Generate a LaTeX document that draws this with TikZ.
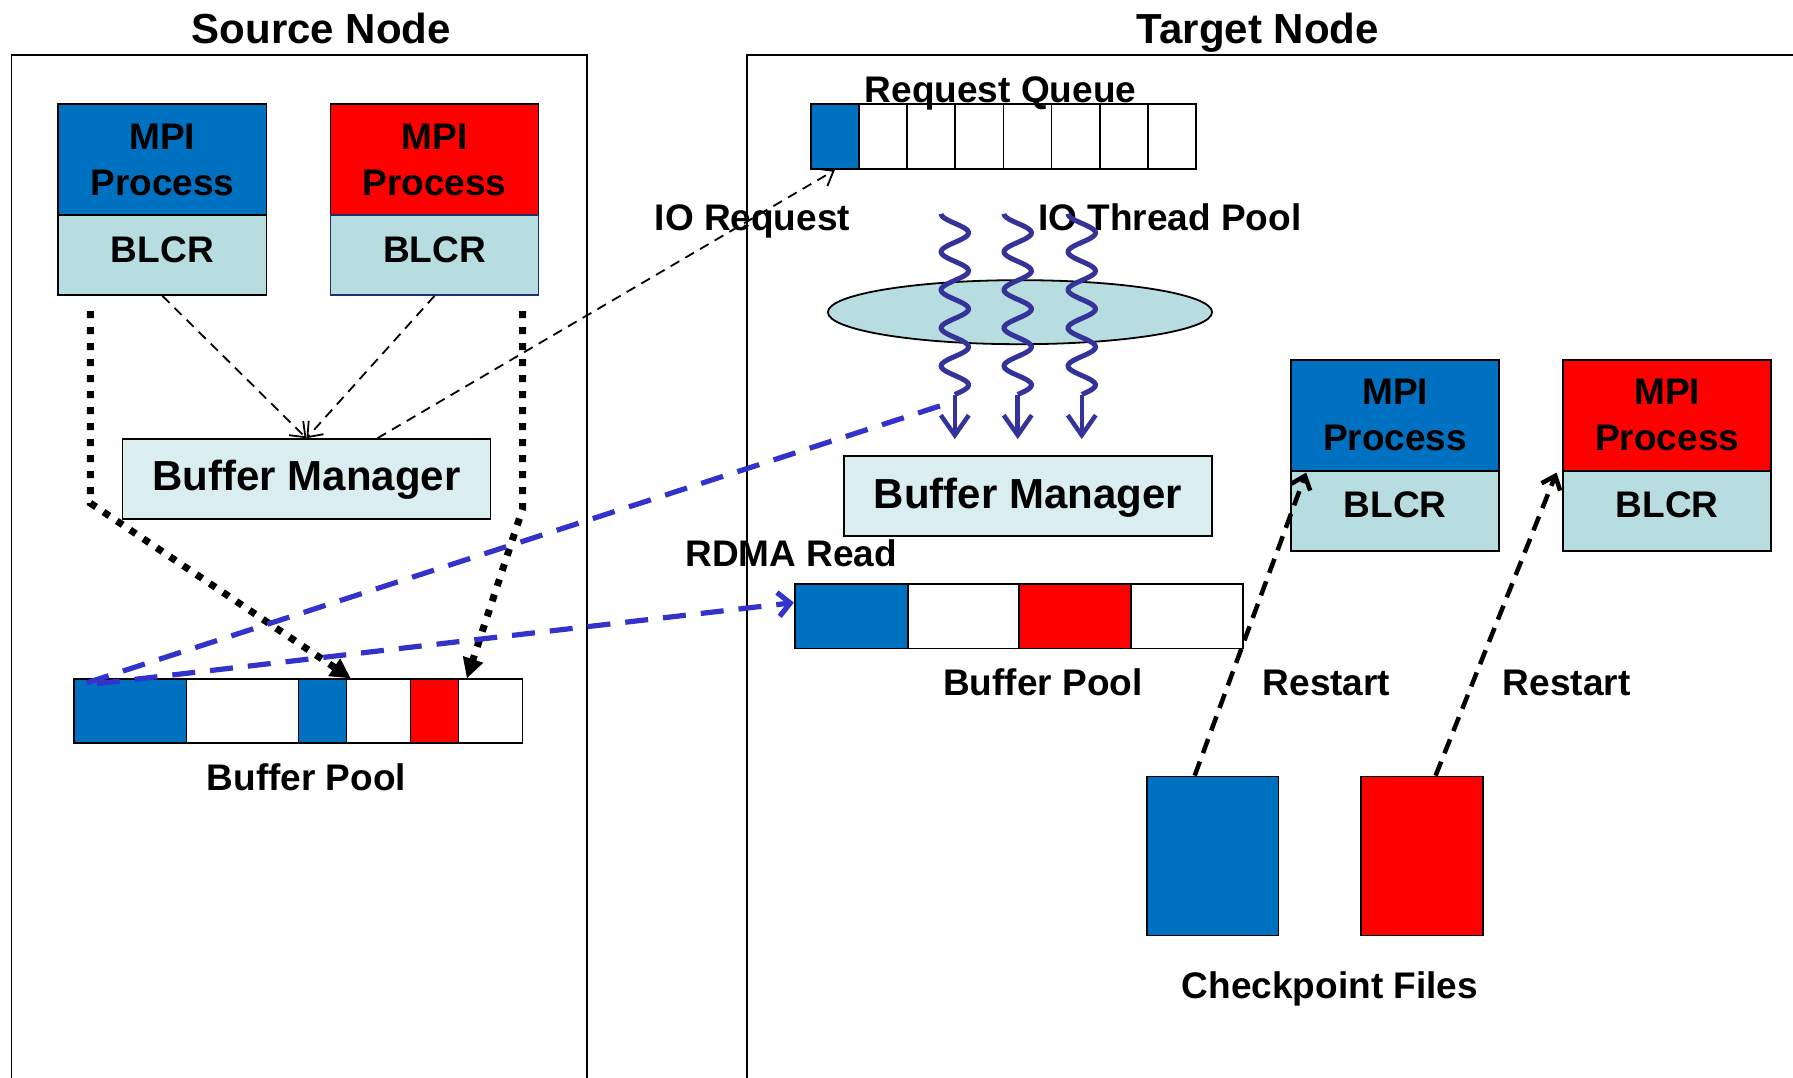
\documentclass[tikz,border=0pt]{standalone}
\usepackage{fontspec}
\setmainfont{Liberation Sans}
\usetikzlibrary{arrows.meta,fit,calc,shapes.geometric}
\definecolor{mblue}{HTML}{0070C0}
\definecolor{mred}{HTML}{FF0000}
\definecolor{blcrc}{HTML}{B7DDE0}
\definecolor{bmc}{HTML}{DAEEF0}
\definecolor{rdmac}{HTML}{3333CC}
\definecolor{wavec}{HTML}{333399}
\definecolor{navyc}{HTML}{1F2F6F}
\begin{document}
\begin{tikzpicture}[x=1.1435pt,y=-1.1435pt,
  big/.style={font=\fontsize{42}{50}\selectfont\bfseries, inner sep=0pt, text height=30pt, text depth=0pt},
  lab/.style={font=\fontsize{37}{45.7}\selectfont\bfseries, inner sep=0pt, text height=26.5pt, text depth=0pt},
  mlab/.style={font=\fontsize{37}{45.7}\selectfont\bfseries, inner sep=0pt, align=center},
  cell/.style={draw, line width=1.7pt, inner sep=0pt},
  frame/.style={draw, line width=1.8pt},
  thin/.style={line width=1.8pt, dash pattern=on 10pt off 7pt, -{Straight Barb[length=13pt,width=20pt]}},
  dotarr/.style={line width=7pt, dash pattern=on 7pt off 9pt, -{Triangle[length=20pt,width=20pt]}},
  rdma/.style={rdmac, line width=5.2pt, dash pattern=on 23pt off 15pt, rounded corners=14pt, -{Straight Barb[length=12pt,width=24pt]}},
  restart/.style={line width=4.5pt, dash pattern=on 15pt off 9pt, -{Straight Barb[length=12pt,width=20pt]}},
  wavy/.style={wavec, line width=5pt},
  wavearr/.style={wavec, line width=4.5pt, -{Straight Barb[length=20pt,width=28pt]}}
]
\path[use as bounding box, clip] (0,0) rectangle (1568,942);

% frames
\draw[frame] (10,48) rectangle (513,1000);
\draw[frame] (653,48) rectangle (1700,1000);

% source node boxes
\node[cell, fill=mblue, fit={(51,91)(233,188)}] (s1m) {};
\node[cell, fill=blcrc, fit={(51,188)(233,258)}] (s1b) {};
\node[cell, fill=mred, fit={(289,91)(471,188)}] (s2m) {};
\node[cell, draw=navyc, fill=blcrc, fit={(289,188)(471,258)}] (s2b) {};
\node[cell, fill=bmc, fit={(107,384)(429,454)}] (sbm) {};
\node[cell, fill=mblue, fit={(65,594)(163,650)}] (sp1) {};
\node[cell, fit={(163,594)(261,650)}] (sp2) {};
\node[cell, fill=mblue, fit={(261,594)(303,650)}] (sp3) {};
\node[cell, fit={(303,594)(359,650)}] (sp4) {};
\node[cell, fill=mred, fit={(359,594)(401,650)}] (sp5) {};
\node[cell, fit={(401,594)(457,650)}] (sp6) {};

% target node boxes
\node[cell, fill=mblue, fit={(709,91)(751.1,148)}] (q1) {};
\foreach \i in {2,...,8} {
  \pgfmathsetmacro\xa{709+(\i-1)*42.125}
  \pgfmathsetmacro\xb{709+\i*42.125}
  \node[cell, fit={(\xa,91)(\xb,148)}] (q\i) {};
}
\node[ellipse, draw, line width=1.8pt, fill=blcrc, minimum width=336*1.1435pt, minimum height=56*1.1435pt, inner sep=0pt] (pool) at (892,273) {};
\node[cell, fill=bmc, fit={(738,399)(1060,469)}] (tbm) {};
\node[cell, fill=mblue, fit={(695,511)(794,567)}] (tp1) {};
\node[cell, fit={(794,511)(891,567)}] (tp2) {};
\node[cell, fill=mred, fit={(891,511)(989,567)}] (tp3) {};
\node[cell, fit={(989,511)(1087,567)}] (tp4) {};
\node[cell, fill=mblue, fit={(1129,315)(1311,412)}] (t1m) {};
\node[cell, fill=blcrc, fit={(1129,412)(1311,482)}] (t1b) {};
\node[cell, fill=mred, fit={(1367,315)(1549,412)}] (t2m) {};
\node[cell, fill=blcrc, fit={(1367,412)(1549,482)}] (t2b) {};
\node[cell, fill=mblue, fit={(1003,679)(1118,818)}] (ck1) {};
\node[cell, fill=mred, fit={(1190,679)(1297,818)}] (ck2) {};

% texts
\node[big] (srcT) at (281,25) {Source Node};
\node[big] (tgtT) at (1100,25) {Target Node};
\node[mlab] (s1mt) at (142,140) {MPI\\Process};
\node[mlab] (s2mt) at (380,140) {MPI\\Process};
\node[lab] (s1bt) at (142,218) {BLCR};
\node[lab] (s2bt) at (380,218) {BLCR};
\node[big] (sbmt) at (268,416) {Buffer Manager};
\node[lab] (spt) at (268,680) {Buffer Pool};
\node[lab] (rqt) at (875,78) {Request Queue};
\node[lab] (iort) at (658,190) {IO Request};
\node[lab] (iotpt) at (1023,190) {IO Thread Pool};
\node[big] (tbmt) at (899,432) {Buffer Manager};
\node[lab] (rdmat) at (692,484) {RDMA Read};
\node[lab] (tpt) at (912,597) {Buffer Pool};
\node[mlab] (t1mt) at (1220,363) {MPI\\Process};
\node[mlab] (t2mt) at (1458,363) {MPI\\Process};
\node[lab] (t1bt) at (1220,441) {BLCR};
\node[lab] (t2bt) at (1458,441) {BLCR};
\node[lab] (rs1) at (1160,597) {Restart};
\node[lab] (rs2) at (1370,597) {Restart};
\node[lab] (ckt) at (1163,862) {Checkpoint Files};

% connectors
\draw[thin] (s1b.south) -- (sbm.north);
\draw[thin] (s2b.south) -- (sbm.north);
\draw[thin] ($(sbm.north)+(62,0)$) -- (q1.south);

\coordinate (d1a) at (79,272);
\coordinate (d1b) at (79,440);
\draw[dotarr] (d1a) -- (d1b) -- ($(sp3.north east)+(3,0)$);
\coordinate (d2a) at (457,272);
\coordinate (d2b) at (457,445);
\draw[dotarr] (d2a) -- (d2b) -- ($(sp6.north west)+(8,0)$);

% thread waves
\foreach \c/\nm in {835/w1,890/w2,946/w3} {
  \draw[wavy] plot[domain=0:158, samples=140, smooth] ({\c-12*cos(10.824*\x)}, {187+\x});
  \coordinate (\nm a) at (\c,345);
  \coordinate (\nm b) at (\c,384);
  \draw[wavearr] (\nm a) -- (\nm b);
}

\coordinate (r0) at (822,355);
\coordinate (rc) at (67,600);
\draw[rdma] (r0) -- (rc) -- ($(tp1.west)+(0,-12)$);

\draw[restart] ($(ck1.north west)!0.365!(ck1.north east)$) -- ($(t1b.north west)+(14,2)$);
\draw[restart] ($(ck2.north west)!0.61!(ck2.north east)$) -- ($(t2b.north west)+(-5,2)$);
\end{tikzpicture}
\end{document}
